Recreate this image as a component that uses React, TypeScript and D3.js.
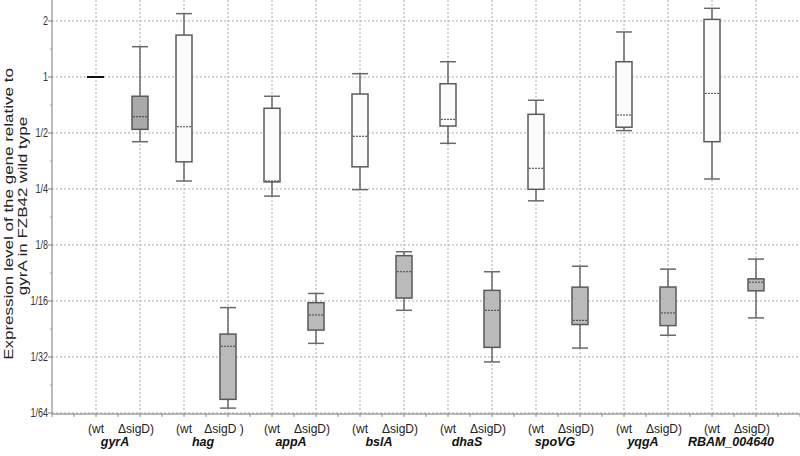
import React from "react";
import * as d3 from "d3";

const genes = ["gyrA", "hag", "appA", "bslA", "dhaS", "spoVG", "yqgA", "RBAM_004640"];
const strains = ["(wt", "ΔsigD)"];
// per box, order: gene0 wt, gene0 ΔsigD, gene1 wt, ...
const whiskerLow = [1, 0.449, 0.276, 0.0166, 0.229, 0.037, 0.248, 0.0557, 0.44, 0.0294, 0.216, 0.0349, 0.515, 0.0409, 0.283, 0.0507];
const q1 = [1, 0.523, 0.35, 0.0185, 0.273, 0.0436, 0.329, 0.0648, 0.545, 0.0352, 0.249, 0.0467, 0.537, 0.0461, 0.449, 0.0709];
const median = [1, 0.612, 0.54, 0.0357, 0.276, 0.0526, 0.48, 0.0898, 0.592, 0.0557, 0.323, 0.0492, 0.625, 0.0539, 0.817, 0.0789];
const q3 = [1, 0.788, 1.68, 0.0415, 0.679, 0.0612, 0.81, 0.1096, 0.92, 0.0713, 0.63, 0.0742, 1.208, 0.0743, 2.04, 0.0822];
const whiskerHigh = [1, 1.455, 2.19, 0.0576, 0.788, 0.0686, 1.042, 0.115, 1.208, 0.0898, 0.75, 0.0961, 1.746, 0.0927, 2.34, 0.105];
const yTickValues = [2, 1, 1 / 2, 1 / 4, 1 / 8, 1 / 16, 1 / 32, 1 / 64];
const yTickLabels = ["2", "1", "1/2", "1/4", "1/8", "1/16", "1/32", "1/64"];
const titleLines = ["Expression level of the gene relative to", "gyrA in FZB42 wild type"];

const W = 800;
const H = 456;

export default function App() {
  const x = d3.scaleLinear().domain([0, 17]).range([52, 800]);
  const y = d3.scaleLog().base(2).domain([1 / 64, Math.pow(2, 1.375)]).range([413, 0]);
  const bw = 16;
  const grid = "#a8a8a8";
  const boxes = whiskerLow.map((_, i) => ({
    i,
    pos: i + 1,
    lo: whiskerLow[i],
    q1: q1[i],
    med: median[i],
    q3: q3[i],
    hi: whiskerHigh[i],
    mutant: i % 2 === 1,
  }));
  const minorY = d3.range(-6, 1.5, 0.5).filter((v) => v % 1 !== 0).map((v) => Math.pow(2, v));
  const xTicks = d3.range(0, 17.01, 0.5);
  return (
    <svg width={W} height={H} style={{ position: "absolute", left: 0, top: 0, background: "#fff" }} fontFamily="'Liberation Sans', Arial, sans-serif">
      {/* grid */}
      {yTickValues.map((v, k) => (
        <line key={"hg" + k} x1={x(0)} x2={W} y1={y(v)} y2={y(v)} stroke={grid} strokeWidth={1} strokeDasharray="2,2" />
      ))}
      {d3.range(1, 17).map((p) => (
        <line key={"vg" + p} x1={x(p)} x2={x(p)} y1={0} y2={y(1 / 64)} stroke={grid} strokeWidth={1} strokeDasharray="2,2" />
      ))}
      {/* axes */}
      <line x1={x(0)} x2={x(0)} y1={0} y2={y(1 / 64)} stroke="#777" strokeWidth={1} />
      <line x1={x(0)} x2={W} y1={y(1 / 64) + 1} y2={y(1 / 64) + 1} stroke="#777" strokeWidth={1} />
      {yTickValues.map((v, k) => (
        <line key={"yt" + k} x1={x(0) - 4} x2={x(0)} y1={y(v)} y2={y(v)} stroke="#777" />
      ))}
      {minorY.map((v, k) => (
        <line key={"ym" + k} x1={x(0) - 2} x2={x(0)} y1={y(v)} y2={y(v)} stroke="#999" />
      ))}
      {xTicks.map((p, k) => (
        <line key={"xt" + k} x1={x(p)} x2={x(p)} y1={y(1 / 64) + 1} y2={y(1 / 64) + 4} stroke="#888" />
      ))}
      {yTickValues.map((v, k) => (
        <text key={"yl" + k} transform={`translate(${x(0) - 4},${y(v) + 4}) scale(0.72,1)`} textAnchor="end" fontSize={12.5} fill="#333">
          {yTickLabels[k]}
        </text>
      ))}
      {/* y title */}
      <g transform={`translate(12.5,214) rotate(-90) scale(1,0.8)`}>
        <text textAnchor="middle" fontSize={17} fill="#222">{titleLines[0]}</text>
      </g>
      <g transform={`translate(27,206) rotate(-90) scale(1,0.8)`}>
        <text textAnchor="middle" fontSize={17} fill="#222">{titleLines[1]}</text>
      </g>
      {/* boxes */}
      {boxes.map((b) => {
        const cx = x(b.pos);
        if (b.lo === b.hi) {
          return <line key={"b" + b.i} x1={cx - 9} x2={cx + 8} y1={y(b.med)} y2={y(b.med)} stroke="#111" strokeWidth={2} />;
        }
        const fill = b.mutant ? (b.i === 1 ? "#a9a9a9" : "#bababa") : "#fcfcfc";
        return (
          <g key={"b" + b.i}>
            <line x1={cx} x2={cx} y1={y(b.hi)} y2={y(b.q3)} stroke="#6a6a6a" strokeWidth={1.5} />
            <line x1={cx} x2={cx} y1={y(b.q1)} y2={y(b.lo)} stroke="#6a6a6a" strokeWidth={1.5} />
            <line x1={cx - bw / 2} x2={cx + bw / 2} y1={y(b.hi)} y2={y(b.hi)} stroke="#6a6a6a" strokeWidth={1.5} />
            <line x1={cx - bw / 2} x2={cx + bw / 2} y1={y(b.lo)} y2={y(b.lo)} stroke="#6a6a6a" strokeWidth={1.5} />
            <rect x={cx - bw / 2} y={y(b.q3)} width={bw} height={y(b.q1) - y(b.q3)} fill={fill} stroke="#5a5a5a" strokeWidth={1.5} />
            <line x1={cx - bw / 2 + 1} x2={cx + bw / 2 - 1} y1={y(b.med)} y2={y(b.med)} stroke="#444" strokeWidth={1} strokeDasharray="2,1" />
          </g>
        );
      })}
      {/* x labels */}
      {d3.range(16).map((i) => (
        <text key={"sl" + i} x={x(i + 1) + (i % 2 === 1 ? -4 : 0)} y={433} textAnchor="middle" fontSize={12} fill="#222">
          {i === 3 ? "ΔsigD )" : strains[i % 2]}
        </text>
      ))}
      {genes.map((g, k) => (
        <text key={"gl" + k} x={(x(2 * k + 1) + x(2 * k + 2)) / 2 - 3} y={446} textAnchor="middle" fontSize={12.5} fontWeight="bold" fontStyle="italic" fill="#111">
          {g}
        </text>
      ))}
    </svg>
  );
}
